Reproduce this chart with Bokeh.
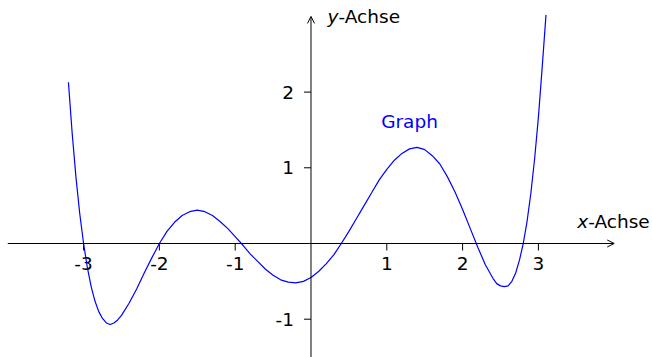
from bokeh.plotting import figure
from bokeh.models import Arrow, OpenHead
from bokeh.core.properties import value
from bokeh.embed import file_html
from bokeh.resources import INLINE

# Data
curve_x = [-3.2, -3.15, -3.1, -3.05, -3.0, -2.95, -2.9, -2.85, -2.8, -2.75, -2.7, -2.65, -2.6, -2.55,
           -2.5, -2.4, -2.3, -2.2, -2.1, -2.0,
           -1.9, -1.8, -1.7, -1.6, -1.5, -1.4, -1.3, -1.2, -1.1, -1.0, -0.9, -0.8, -0.7,
           -0.6, -0.5, -0.4, -0.3, -0.2, -0.1, 0.0, 0.1, 0.2, 0.3, 0.4, 0.5, 0.6, 0.7, 0.8,
           0.9, 1.0, 1.1, 1.2, 1.3, 1.4, 1.5, 1.6, 1.7, 1.8, 1.9, 2.0, 2.1, 2.2, 2.3, 2.4,
           2.45, 2.5, 2.55, 2.6, 2.65, 2.7, 2.75, 2.8, 2.85, 2.9, 2.95, 3.0, 3.05, 3.1]
curve_y = [2.13, 1.45, 0.87, 0.39, 0.0, -0.32, -0.57, -0.76, -0.90, -0.99, -1.05, -1.07, -1.05, -1.01,
           -0.95, -0.79, -0.60, -0.39, -0.19, 0.0,
           0.16, 0.28, 0.37, 0.42, 0.44, 0.42, 0.37, 0.29, 0.20, 0.09, -0.02, -0.14, -0.24,
           -0.34, -0.42, -0.48, -0.51, -0.52, -0.50, -0.45, -0.37, -0.27, -0.15, 0.0, 0.16, 0.33, 0.50, 0.67,
           0.84, 0.98, 1.10, 1.19, 1.25, 1.27, 1.24, 1.16, 1.05, 0.88, 0.68, 0.45, 0.20, -0.05, -0.28, -0.46,
           -0.53, -0.56, -0.57, -0.56, -0.50, -0.39, -0.22, 0.0, 0.29, 0.66, 1.12, 1.67, 2.33, 3.02]

x_ticks = [-3, -2, -1, 1, 2, 3]
x_tick_labels = ["-3", "-2", "-1", "1", "2", "3"]
y_ticks = [-1, 1, 2]
y_tick_labels = ["-1", "1", "2"]

x_axis_span = (-4.0, 4.0)
y_axis_span = (-1.6, 3.0)

graph_label = "Graph"
graph_label_pos = (1.30, 1.61)

FONT = value("DejaVu Sans")
FS = "18.5px"
BLUE = "#0000ff"

p = figure(width=652, height=357, x_range=(-4.096, 4.505), y_range=(-1.506, 3.210),
           output_backend="svg", toolbar_location=None, min_border=0,
           x_axis_location=None, y_axis_location=None, outline_line_color=None)
p.grid.visible = False
p.background_fill_color = "white"

# axes with arrow heads
p.add_layout(Arrow(end=OpenHead(size=7, line_width=1, line_color="black"),
                   x_start=x_axis_span[0], y_start=0, x_end=x_axis_span[1], y_end=0,
                   line_width=1, line_color="black"))
p.add_layout(Arrow(end=OpenHead(size=7, line_width=1, line_color="black"),
                   x_start=0, y_start=y_axis_span[0], x_end=0, y_end=y_axis_span[1],
                   line_width=1, line_color="black"))

# ticks (7 px outward)
tick_len_x = 7 / 75.7
tick_len_y = 7 / 75.8
p.segment(x0=x_ticks, y0=[0] * len(x_ticks), x1=x_ticks, y1=[-tick_len_x] * len(x_ticks),
          line_color="black", line_width=1)
p.segment(x0=[0] * len(y_ticks), y0=y_ticks, x1=[-tick_len_y] * len(y_ticks), y1=y_ticks,
          line_color="black", line_width=1)

# tick labels
p.text(x=x_ticks, y=[0] * len(x_ticks), text=x_tick_labels, text_align="center",
       text_baseline="top", y_offset=14, text_font=FONT, text_font_size=FS, text_color="black")
p.text(x=[0] * len(y_ticks), y=y_ticks, text=y_tick_labels, text_align="right",
       text_baseline="middle", x_offset=-17, text_font=FONT, text_font_size=FS, text_color="black")

# curve
p.line(curve_x, curve_y, line_color=BLUE, line_width=1.2, line_join="round")

# labels
p.text(x=[graph_label_pos[0]], y=[graph_label_pos[1]], text=[graph_label], text_align="center",
       text_baseline="middle", text_font=FONT, text_font_size=FS, text_color=BLUE)

# x-Achse
p.text(x=[x_axis_span[1]], y=[0], text=["x"], text_align="left", text_baseline="middle",
       x_offset=-37, y_offset=-22, text_font=FONT, text_font_size=FS, text_font_style="italic",
       text_color="black")
p.text(x=[x_axis_span[1]], y=[0], text=["-Achse"], text_align="left", text_baseline="middle",
       x_offset=-26, y_offset=-22, text_font=FONT, text_font_size=FS, text_color="black")

# y-Achse
p.text(x=[0], y=[y_axis_span[1]], text=["y"], text_align="left", text_baseline="middle",
       x_offset=16.5, y_offset=0, text_font=FONT, text_font_size=FS, text_font_style="italic",
       text_color="black")
p.text(x=[0], y=[y_axis_span[1]], text=["-Achse"], text_align="left", text_baseline="middle",
       x_offset=27.5, y_offset=0, text_font=FONT, text_font_size=FS, text_color="black")

open("out.html", "w").write(file_html(p, INLINE))
